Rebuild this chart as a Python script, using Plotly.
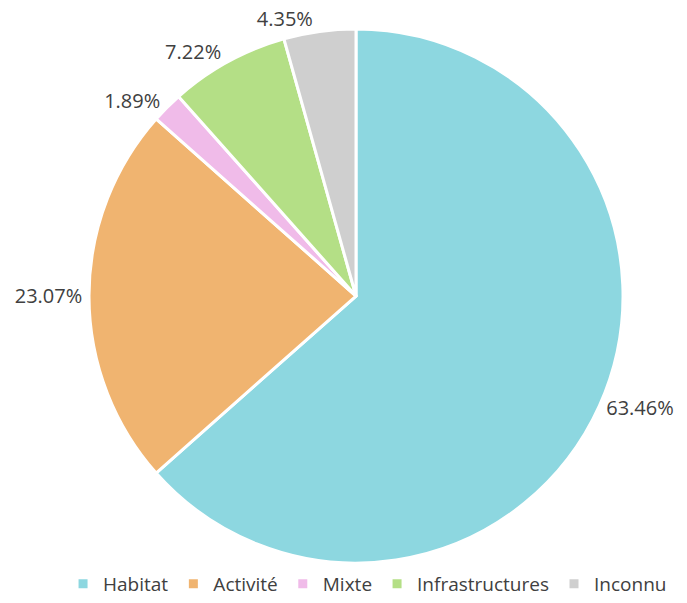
import plotly.graph_objects as go

categories = ["Habitat", "Activité", "Mixte", "Infrastructures", "Inconnu"]
values = [63.46, 23.07, 1.89, 7.22, 4.35]
colors = ["#8dd7e0", "#f0b470", "#f0bbe9", "#b4df86", "#cfcfcf"]

fig = go.Figure(go.Pie(
    labels=categories,
    values=values,
    sort=False,
    direction="clockwise",
    rotation=0,
    automargin=False,
    marker=dict(colors=colors, line=dict(color="white", width=3)),
    texttemplate="%{value:.2f}%",
    textposition="outside",
    textfont=dict(family="Open Sans", size=20, color="#404040"),
    hoverinfo="label+value",
    domain=dict(x=[0.0815, 0.9549], y=[0.0663, 0.9519]),
))

fig.update_layout(
    width=687, height=603,
    margin=dict(l=0, r=0, t=0, b=0, autoexpand=False),
    paper_bgcolor="white",
    showlegend=True,
    legend=dict(
        orientation="h", x=0.535, xanchor="center", y=0.0, yanchor="bottom",
        bgcolor="rgba(0,0,0,0)",
        font=dict(family="Open Sans", size=19, color="#404040"),
        itemwidth=30, traceorder="normal",
    ),
)

fig.write_html("out.html", config={"displayModeBar": False},
               post_script="document.body.style.margin='0px';")
